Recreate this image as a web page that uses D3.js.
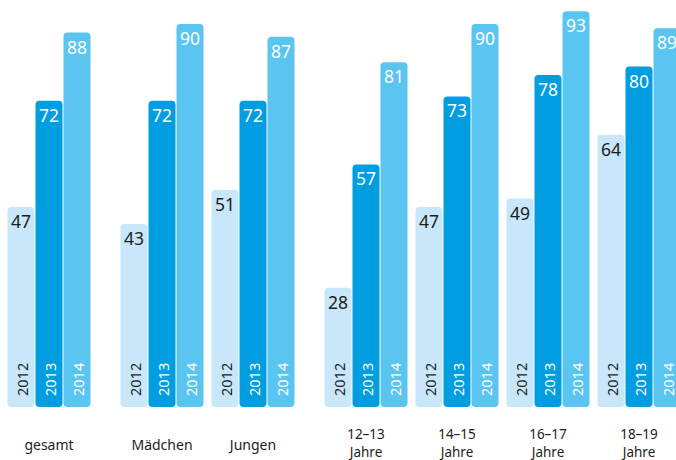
<!DOCTYPE html>
<html>
<head>
<meta charset="utf-8">
<script src="https://cdn.jsdelivr.net/npm/d3@7"></script>
<style>
  body { margin: 0; background: #fff; }
  svg { display: block; font-family: "Noto Sans", "Open Sans", sans-serif; }
</style>
</head>
<body>
<div id="chart"></div>
<script>
/* data */
const groups = ["gesamt", "Mädchen", "Jungen", "12–13", "14–15", "16–17", "18–19"];
const groupLines = [["gesamt"], ["Mädchen"], ["Jungen"], ["12–13", "Jahre"], ["14–15", "Jahre"], ["16–17", "Jahre"], ["18–19", "Jahre"]];
const groupSection = [0, 1, 1, 2, 2, 2, 2];
const years = ["2012", "2013", "2014"];
const values2012 = [47, 43, 51, 28, 47, 49, 64];
const values2013 = [72, 72, 72, 57, 73, 78, 80];
const values2014 = [88, 90, 87, 81, 90, 93, 89];

const colors = { "2012": "#c8e7fa", "2013": "#009ee0", "2014": "#5bc5f2" };
const textColors = { "2012": "#1d1d1b", "2013": "#ffffff", "2014": "#ffffff" };

const width = 676;
const height = 460;
const baseY = 407;
const sectionGap = 22;

const rows = groups.map((g, i) => ({
  group: g, lines: groupLines[i], section: groupSection[i],
  vals: [
    { year: "2012", value: values2012[i] },
    { year: "2013", value: values2013[i] },
    { year: "2014", value: values2014[i] }
  ]
}));

const svg = d3.select("#chart").append("svg")
  .attr("width", width)
  .attr("height", height);

/* outer scale for groups, inner for years */
const x0 = d3.scaleBand().domain(groups).range([7, 637]).paddingInner(7 / 91).paddingOuter(0);
const x1 = d3.scaleBand().domain(years).range([0, x0.bandwidth()]);
const y = d3.scaleLinear().domain([0, 100]).range([baseY, baseY - 425.5]);

const groupX = d => x0(d.group) + d.section * sectionGap;

const g = svg.selectAll("g.grp").data(rows).enter().append("g")
  .attr("class", "grp")
  .attr("transform", d => `translate(${groupX(d)},0)`);

const bar = g.selectAll("g.bar").data(d => d.vals).enter().append("g")
  .attr("class", "bar");

bar.append("rect")
  .attr("x", d => x1(d.year) + 0.5)
  .attr("width", x1.bandwidth() - 1)
  .attr("y", d => y(d.value))
  .attr("height", d => baseY - y(d.value))
  .attr("rx", 4)
  .attr("fill", d => colors[d.year]);

/* value labels at top of bar */
bar.append("text")
  .attr("x", d => x1(d.year) + x1.bandwidth() / 2)
  .attr("y", d => y(d.value) + 21)
  .attr("text-anchor", "middle")
  .attr("font-size", 17.5)
  .attr("fill", d => textColors[d.year])
  .text(d => d.value);

/* year labels, rotated, at bar bottom */
bar.append("text")
  .attr("transform", d => `translate(${x1(d.year) + x1.bandwidth() / 2 + 6.5},${baseY - 11}) rotate(-90)`)
  .attr("text-anchor", "start")
  .attr("font-size", 14.5)
  .attr("fill", d => textColors[d.year])
  .text(d => d.year);

/* category labels, one text per line */
g.selectAll("text.cat").data(d => d.lines.map((t, i) => ({ t, i, n: d.lines.length }))).enter()
  .append("text")
  .attr("class", "cat")
  .attr("x", x0.bandwidth() / 2)
  .attr("y", d => d.n === 1 ? 450 : 439 + d.i * 18)
  .attr("text-anchor", "middle")
  .attr("font-size", d => d.n === 1 ? 14 : 13.5)
  .attr("fill", "#1d1d1b")
  .text(d => d.t);
</script>
</body>
</html>
